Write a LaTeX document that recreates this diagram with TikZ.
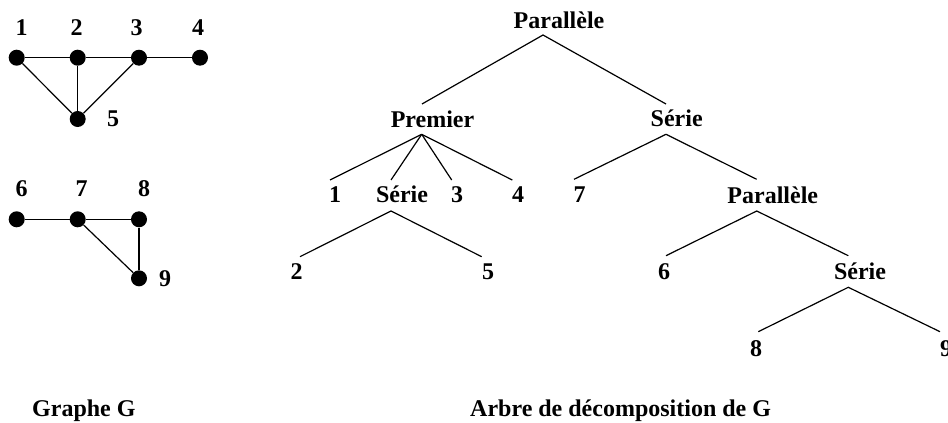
\documentclass[tikz,border=0pt]{standalone}
\usepackage{fontspec}
\setmainfont{Liberation Serif}
\begin{document}
\begin{tikzpicture}[x=1pt,y=-1pt,
  every node/.style={font=\fontsize{24}{28}\selectfont\bfseries, inner sep=0pt},
  lbl/.style={anchor=base},
  vertex/.style={circle, fill=black, minimum size=16pt, inner sep=0pt},
  edge/.style={line width=1.2pt},
  branch/.style={line width=1.2pt}]
\useasboundingbox (0,0) rectangle (948,423);

% ---- graph G ----
\node[vertex] (v1) at (16.7,57.7) {};
\node[vertex] (v2) at (77.7,57.7) {};
\node[vertex] (v3) at (139,57.7) {};
\node[vertex] (v4) at (200,57.7) {};
\node[vertex] (v5) at (77.7,119) {};
\node[vertex] (v6) at (16.7,219.3) {};
\node[vertex] (v7) at (77.7,219.3) {};
\node[vertex] (v8) at (139,219.3) {};
\node[vertex] (v9) at (139,278.3) {};

\draw[edge] (v1) -- (v2) -- (v3) -- (v4);
\draw[edge] (v1) -- (v5);
\draw[edge] (v2) -- (v5);
\draw[edge] (v3) -- (v5);
\draw[edge] (v6) -- (v7) -- (v8) -- (v9);
\draw[edge] (v7) -- (v9);

\node[lbl] (l1) at (21.7,35) {1};
\node[lbl] (l2) at (76.7,35) {2};
\node[lbl] (l3) at (136.7,35) {3};
\node[lbl] (l4) at (198,35) {4};
\node[lbl] (l5) at (113,126.7) {5};
\node[lbl] (l6) at (21.7,196.7) {6};
\node[lbl] (l7) at (81.7,196.7) {7};
\node[lbl] (l8) at (144,196.7) {8};
\node[lbl] (l9) at (165,286) {9};

% ---- decomposition tree ----
\node[lbl] (root) at (559,28.3) {Parallèle};
\node[lbl] (prem) at (432.5,127.7) {Premier};
\node[lbl] (serA) at (676.7,126.7) {Série};
\node[lbl] (t1) at (335,202.7) {1};
\node[lbl] (serB) at (402,202.7) {Série};
\node[lbl] (t3) at (457,202.7) {3};
\node[lbl] (t4) at (518,202.7) {4};
\node[lbl] (t7) at (579.5,202.7) {7};
\node[lbl] (parB) at (772.8,203.3) {Parallèle};
\node[lbl] (t2) at (296.7,279.3) {2};
\node[lbl] (t5) at (488,279.3) {5};
\node[lbl] (t6) at (664,279.3) {6};
\node[lbl] (serC) at (860,279.3) {Série};
\node[lbl] (t8) at (756,356) {8};
\node[lbl] (t9) at (946,356) {9};

% attachment points of the branches
\coordinate (root-b) at (543,35);
\coordinate (prem-t) at (422,104);
\coordinate (serA-t) at (666,104);
\coordinate (prem-b) at (421.7,134.3);
\coordinate (t1-t) at (330,180);
\coordinate (serB-t) at (391,180);
\coordinate (t3-t) at (451.7,180);
\coordinate (t4-t) at (512.3,180);
\coordinate (serB-b) at (391,211);
\coordinate (t2-t) at (300,256.7);
\coordinate (t5-t) at (481.7,256.7);
\coordinate (serA-b) at (666,134.3);
\coordinate (t7-t) at (574,179.3);
\coordinate (parB-t) at (756.7,179.3);
\coordinate (parB-b) at (756.7,211);
\coordinate (t6-t) at (666,255.7);
\coordinate (serC-t) at (848.3,255.7);
\coordinate (serC-b) at (848.3,287.3);
\coordinate (t8-t) at (758.3,331.7);
\coordinate (t9-t) at (940,331.7);

\draw[branch] (prem-t) -- (root-b) -- (serA-t);
\draw[branch] (prem-b) -- (t1-t);
\draw[branch] (prem-b) -- (serB-t);
\draw[branch] (prem-b) -- (t3-t);
\draw[branch] (prem-b) -- (t4-t);
\draw[branch] (t2-t) -- (serB-b) -- (t5-t);
\draw[branch] (t7-t) -- (serA-b) -- (parB-t);
\draw[branch] (t6-t) -- (parB-b) -- (serC-t);
\draw[branch] (t8-t) -- (serC-b) -- (t9-t);

% ---- captions ----
\node[anchor=base west] (capG) at (32,416) {Graphe G};
\node[anchor=base west] (capT) at (470,416) {Arbre de décomposition de G};
\end{tikzpicture}
\end{document}
